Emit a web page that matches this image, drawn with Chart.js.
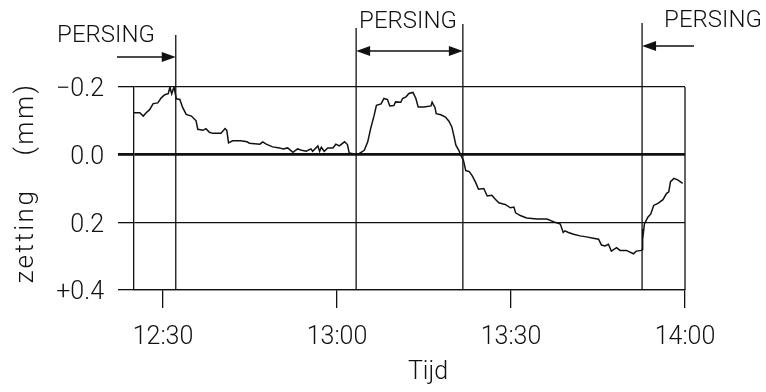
<!DOCTYPE html>
<html>
<head>
<meta charset="utf-8">
<script src="https://cdn.jsdelivr.net/npm/chart.js@4/dist/chart.umd.min.js"></script>
<style>
html,body{margin:0;padding:0;background:#fff;}
#wrap{width:766px;height:392px;position:relative;}
</style>
</head>
<body>
<div id="wrap"><canvas id="c" width="766" height="392"></canvas></div>
<script>
// time in minutes after 12:00
const times = [25,26.0,26.6,27.1,27.7,28.3,29.1,29.7,30.3,30.9,31.2,31.5,31.9,32.3,32.9,33.4,34.0,34.9,35.7,36.0,36.9,37.4,38.0,38.6,40.0,40.7,41.0,41.3,42.0,43.4,44.5,44.9,46.7,47.2,47.8,48.9,50.1,50.7,51.5,52.4,53.2,54.1,54.7,55.5,55.8,56.7,57.0,57.3,57.8,58.4,59.3,59.8,60.4,61.3,61.8,62.1,63.0,63.8,64.7,65.3,65.8,66.4,66.8,67.6,68.1,68.7,69.1,69.8,70.1,71.0,71.3,71.9,72.4,73.1,73.6,74.0,75.0,76.2,76.4,76.9,77.1,77.9,78.7,79.3,79.8,80.2,80.5,81.0,81.3,81.8,82.2,82.8,83.3,83.9,84.4,85.3,85.9,86.7,87.3,87.9,88.5,89.0,89.9,90.5,90.8,91.6,92.7,94.5,96.2,97.6,98.5,99.0,99.3,99.9,100.8,101.9,103.0,104.2,105.1,105.6,106.2,106.8,107.3,108.2,108.8,109.9,111.1,111.6,112.5,112.6,112.7,112.8,113.0,113.6,114.1,114.6,115.4,116.2,116.8,117.2,117.5,118.1,118.8,119.6];
// zetting (mm), negative = upward
const zetting = [-0.124,-0.124,-0.114,-0.124,-0.133,-0.151,-0.153,-0.168,-0.177,-0.18,-0.2,-0.18,-0.2,-0.165,-0.163,-0.139,-0.119,-0.114,-0.1,-0.075,-0.072,-0.077,-0.066,-0.063,-0.063,-0.077,-0.072,-0.035,-0.041,-0.041,-0.038,-0.034,-0.031,-0.038,-0.031,-0.023,-0.02,-0.017,-0.02,-0.007,-0.017,-0.012,-0.01,-0.017,-0.01,-0.026,-0.01,-0.022,-0.01,-0.02,-0.02,-0.031,-0.026,-0.038,-0.03,-0.005,-0.002,-0.003,-0.013,-0.038,-0.077,-0.116,-0.146,-0.15,-0.166,-0.163,-0.144,-0.145,-0.156,-0.155,-0.166,-0.171,-0.181,-0.184,-0.166,-0.141,-0.141,-0.144,-0.155,-0.139,-0.121,-0.118,-0.111,-0.099,-0.082,-0.052,-0.028,-0.013,0.0,0.017,0.047,0.05,0.062,0.082,0.102,0.1,0.122,0.12,0.132,0.142,0.145,0.147,0.157,0.155,0.172,0.18,0.187,0.19,0.19,0.2,0.205,0.23,0.225,0.23,0.235,0.24,0.243,0.247,0.25,0.267,0.27,0.265,0.285,0.275,0.283,0.283,0.293,0.285,0.283,0.28,0.22,0.235,0.205,0.185,0.175,0.15,0.143,0.133,0.115,0.11,0.08,0.07,0.075,0.085];
const persingTimes = [32.2, 63.3, 81.7, 112.6];
const persingLabel = 'PERSING';
const xTickValues = [30, 60, 90, 120];
const xTickLabels = ['12:30', '13:00', '13:30', '14:00'];
const yTickValues = [-0.2, 0, 0.2, 0.4];
const yTickLabels = ['\u22120.2', '0.0', '0.2', '+0.4'];
const xTitle = 'Tijd';
const yTitle = 'zetting  (mm)';

const FONT = 'Roboto, "DejaVu Sans", sans-serif';
const INK = '#111';

function arrowHead(ctx, x, y, dir) {
  ctx.beginPath();
  ctx.moveTo(x, y);
  ctx.lineTo(x - dir * 14, y - 5);
  ctx.lineTo(x - dir * 14, y + 5);
  ctx.closePath();
  ctx.fill();
}

const annot = {
  id: 'annot',
  afterDraw(chart) {
    const ctx = chart.ctx, xs = chart.scales.x, ca = chart.chartArea;
    ctx.save();
    ctx.strokeStyle = INK; ctx.fillStyle = INK; ctx.lineWidth = 1.3;
    const tops = [35, 28, 24, 23];
    const px = persingTimes.map(t => xs.getPixelForValue(t));
    px.forEach((x, i) => {
      ctx.beginPath(); ctx.moveTo(x, tops[i]); ctx.lineTo(x, ca.bottom); ctx.stroke();
    });
    // right border
    const xr = xs.getPixelForValue(120);
    ctx.beginPath(); ctx.moveTo(xr, ca.top); ctx.lineTo(xr, ca.bottom); ctx.stroke();
    // arrow 1
    ctx.beginPath(); ctx.moveTo(117, 57); ctx.lineTo(px[0] - 10, 57); ctx.stroke();
    arrowHead(ctx, px[0], 57, 1);
    // arrow 2 (double)
    ctx.beginPath(); ctx.moveTo(px[1] + 10, 51); ctx.lineTo(px[2] - 10, 51); ctx.stroke();
    arrowHead(ctx, px[1], 51, -1);
    arrowHead(ctx, px[2], 51, 1);
    // arrow 3
    ctx.beginPath(); ctx.moveTo(px[3] + 10, 46); ctx.lineTo(694, 46); ctx.stroke();
    arrowHead(ctx, px[3], 46, -1);
    // labels
    ctx.font = '300 24px ' + FONT;
    ctx.textAlign = 'center'; ctx.textBaseline = 'middle';
    ctx.fillText(persingLabel, 106, 36);
    ctx.fillText(persingLabel, 408, 22);
    ctx.fillText(persingLabel, 713, 21);
    ctx.font = '300 25px ' + FONT;
    ctx.fillText(xTitle, 428, 373);
    // y title, rotated, letter-spaced, two words
    const parts = yTitle.split(/\s+/);
    const centers = [236, 119];
    ctx.save();
    ctx.font = '300 26px ' + FONT;
    ctx.letterSpacing = '2.5px';
    ctx.textBaseline = 'alphabetic';
    parts.forEach((p, i) => {
      ctx.save();
      ctx.translate(33, centers[i]); ctx.rotate(-Math.PI / 2);
      ctx.fillText(p, 0, 0);
      ctx.restore();
    });
    ctx.restore();
    ctx.restore();
  }
};

new Chart(document.getElementById('c'), {
  type: 'line',
  data: {
    datasets: [{
      data: times.map((t, i) => ({ x: t, y: zetting[i] })),
      borderColor: INK, borderWidth: 1.5, pointRadius: 0, tension: 0, fill: false
    }]
  },
  options: {
    responsive: false, animation: false,
    layout: { padding: { left: 0, top: 87, right: 81, bottom: 0 } },
    plugins: { legend: { display: false }, tooltip: { enabled: false } },
    scales: {
      x: {
        type: 'linear', min: 25, max: 120,
        afterBuildTicks: s => { s.ticks = xTickValues.map(v => ({ value: v })); },
        afterFit: s => { s.height = 102; },
        grid: { drawOnChartArea: false, drawTicks: true, tickLength: 18, color: INK, lineWidth: 1.3 },
        border: { display: true, color: INK, width: 1.3 },
        ticks: {
          padding: 15, color: INK, font: { family: FONT, size: 25, weight: '300' },
          maxRotation: 0, autoSkip: false,
          callback: v => xTickLabels[xTickValues.indexOf(v)]
        }
      },
      y: {
        min: -0.2, max: 0.4, reverse: true,
        afterBuildTicks: s => { s.ticks = yTickValues.map(v => ({ value: v })); },
        afterFit: s => { s.width = 134; },
        grid: {
          drawOnChartArea: true, drawTicks: true, tickLength: 16, color: INK,
          lineWidth: c => (c.tick && c.tick.value === 0) ? 2.8 : 1.3
        },
        border: { display: true, color: INK, width: 1.3 },
        ticks: {
          padding: 14, labelOffset: 3, color: INK, font: { family: FONT, size: 25, weight: '300' },
          autoSkip: false,
          callback: v => yTickLabels[yTickValues.indexOf(v)]
        }
      }
    }
  },
  plugins: [annot]
});
</script>
</body>
</html>
